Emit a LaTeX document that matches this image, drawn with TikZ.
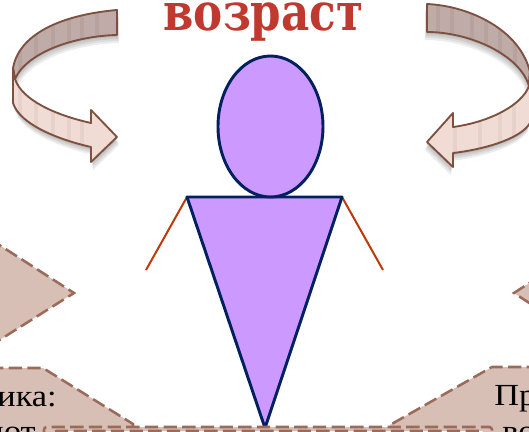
\documentclass[tikz,border=0pt]{standalone}
\usepackage{fontspec}
\setmainfont{Liberation Serif}
\newfontfamily\wordfont[FakeStretch=1.12]{Liberation Serif}
\newfontfamily\titlefont[FakeStretch=0.84]{DejaVu Serif}
\definecolor{bandfill}{HTML}{D8BFB6}
\definecolor{banddash}{HTML}{9C6A58}
\definecolor{bodyfill}{HTML}{CC99FF}
\definecolor{bodyline}{HTML}{002060}
\definecolor{armline}{HTML}{BC3A0A}
\definecolor{backfill}{HTML}{BFABA7}
\definecolor{backstripe}{HTML}{B7A29E}
\definecolor{frontfill}{HTML}{F0DBD5}
\definecolor{frontstripe}{HTML}{E6D1CB}
\definecolor{arrowline}{HTML}{7D5040}
\definecolor{titlered}{HTML}{C0392F}
\tikzset{
  band/.style={draw=banddash, fill=bandfill, line width=1.9pt, dash pattern=on 10pt off 4pt},
  body/.style={draw=bodyline, fill=bodyfill, line width=2.2pt},
  arm/.style={draw=armline, line width=1.5pt},
  rim/.style={draw=arrowline, line width=1.4pt, line join=round},
  words/.style={font=\wordfont\fontsize{23}{27}\selectfont, text=black, inner sep=0pt}
}
\newcommand{\backL}{(117,10) .. controls (70,14) and (20,30) .. (13,68) -- (15,79) .. controls (27,52) and (75,36) .. (117,35) -- cycle}
\newcommand{\frontL}{(13,68) -- (13,103) .. controls (20,125) and (60,140) .. (91,147) -- (91,162) -- (117,137) -- (91,110) -- (91,123) .. controls (55,115) and (22,100) .. (15,79) -- cycle}
\newcommand{\backR}{(427,4) .. controls (470,6) and (520,30) .. (530,72) -- (529,86) .. controls (520,55) and (470,32) .. (427,32) -- cycle}
\newcommand{\frontR}{(530,72) -- (530,123) .. controls (520,140) and (480,150) .. (453,153) -- (453,167) -- (427,142) -- (453,113) -- (453,127) .. controls (490,122) and (522,105) .. (529,86) -- cycle}
\begin{document}
\begin{tikzpicture}[x=0.75pt, y=-0.75pt]
\useasboundingbox (0,0) rectangle (529,432);
\clip (0,0) rectangle (529,432);

% arrows, soft shadow first
\foreach \d in {2,4,6,8} {
  \fill[black, opacity=0.07, xshift=0.2*\d, yshift=-0.75*\d] \backL;
  \fill[black, opacity=0.07, xshift=0.2*\d, yshift=-0.75*\d] \frontL;
  \fill[black, opacity=0.07, xshift=-0.2*\d, yshift=-0.75*\d] \backR;
  \fill[black, opacity=0.07, xshift=-0.2*\d, yshift=-0.75*\d] \frontR;
}
\fill[backfill] \backL;
\fill[frontfill] \frontL;
\fill[backfill] \backR;
\fill[frontfill] \frontR;
\begin{scope}
\clip \backL;
\foreach \x in {18,34,51,67,80,95} \fill[backstripe] (\x,0) rectangle (\x+4,90);
\end{scope}
\begin{scope}
\clip \frontL;
\foreach \x in {18,34,51,67,80} \fill[frontstripe] (\x,60) rectangle (\x+4,170);
\end{scope}
\begin{scope}
\clip \backR;
\foreach \x in {436,450,470,484,498,513} \fill[backstripe] (\x,0) rectangle (\x+4,90);
\end{scope}
\begin{scope}
\clip \frontR;
\foreach \x in {453,478,498,512} \fill[frontstripe] (\x,60) rectangle (\x+4,170);
\end{scope}
\draw[rim] \backL;
\draw[rim] \frontL;
\draw[rim] \backR;
\draw[rim] \frontR;

\node[anchor=base, inner sep=0pt, text=titlered, font=\titlefont\fontsize{39}{43}\selectfont\bfseries] (title) at (263.5,31) {возраст};

% figure
\draw[arm] (187,197) -- (146,270);
\draw[arm] (342,197) -- (383,270);
\draw[body, line join=round] (187,197) -- (342,197) -- (265,428) -- cycle;
\draw[body] (270.5,126.5) ellipse (52.5 and 70.5);

% side shapes
\draw[band] (-10,239) -- (74,293) -- (-10,346) -- cycle;
\draw[band] (540,276) -- (514,293) -- (540,310) -- cycle;
\draw[band] (-10,368) -- (43,368) -- (133,424) -- (133,445) -- (-10,445) -- cycle;
\draw[band] (540,367) -- (492,367) -- (390,425) -- (390,445) -- (540,445) -- cycle;
\draw[band, rounded corners=2pt] (44,427) rectangle (492,450);
\draw[band, fill=white, rounded corners=2pt] (54,431) rectangle (484,450);

\node[words, anchor=base east] (lefttop) at (57,406) {ника:};
\node[words, anchor=base east] (leftlow) at (36,441) {ют};
\node[words, anchor=base west] (righttop) at (494,405) {Пр};
\node[words, anchor=base west] (rightlow) at (502,441) {во};
\end{tikzpicture}
\end{document}
